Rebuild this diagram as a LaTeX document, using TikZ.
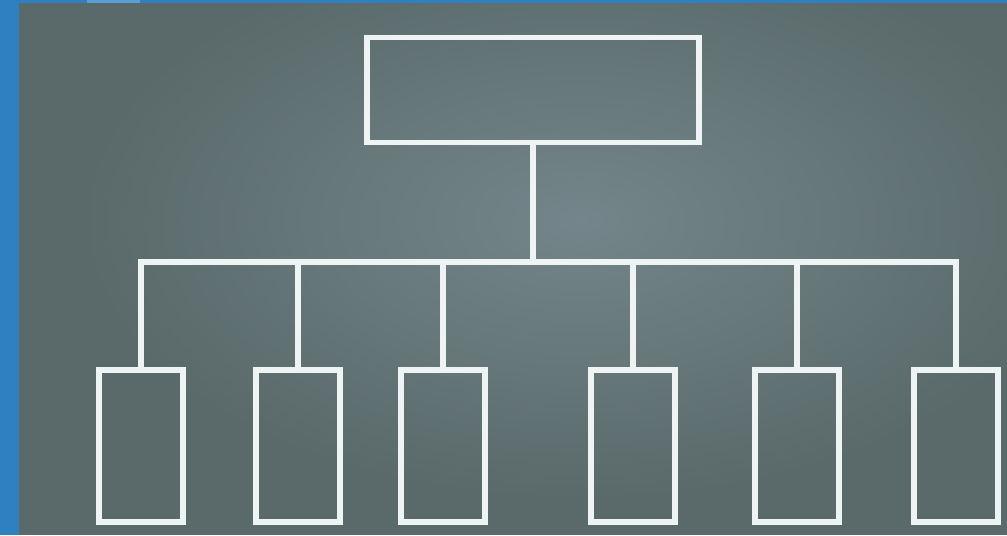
\documentclass[tikz,border=0pt]{standalone}
\usetikzlibrary{positioning}
\definecolor{frameblue}{HTML}{2F80C1}
\definecolor{paleblue}{HTML}{5B9FD6}
\definecolor{board}{HTML}{5A6A6A}
\definecolor{boardlight}{HTML}{74858B}
\definecolor{chalk}{HTML}{EEF3F3}
\tikzset{
  chalkline/.style={draw=chalk, line width=2.9pt, line join=miter},
  headbox/.style={chalkline, rectangle, minimum width=6.64cm, minimum height=2.1cm, inner sep=0pt},
  leafbox/.style={chalkline, rectangle, minimum width=1.68cm, minimum height=3.04cm, inner sep=0pt}
}

\begin{document}
\begin{tikzpicture}[x=0.02cm, y=-0.02cm]
  % frame and board
  \fill[frameblue] (0,0) rectangle (1007,535);
  \fill[paleblue] (87,0) rectangle (140,3);
  \fill[board] (19,3) rectangle (1007,535);
  \begin{scope}
    \clip (19,3) rectangle (1007,535);
    \shade[inner color=boardlight, outer color=board] (580,220) ellipse (500 and 280);
  \end{scope}
  \useasboundingbox (0,0) rectangle (1007,535);

  % chart
  \node[headbox] (head) at (533,90) {};
  \coordinate (bar) at (533,262);
  \foreach \i/\x in {1/141, 2/298, 3/443, 4/633, 5/797, 6/956}
    \node[leafbox] (leaf\i) at (\x,446) {};

  \draw[chalkline] (head.south) -- (bar);
  \draw[chalkline] (leaf1.north) |- (leaf6.north |- bar) -- (leaf6.north);
  \foreach \i in {2,...,5}
    \draw[chalkline] (leaf\i.north) -- (leaf\i.north |- bar);
\end{tikzpicture}
\end{document}
